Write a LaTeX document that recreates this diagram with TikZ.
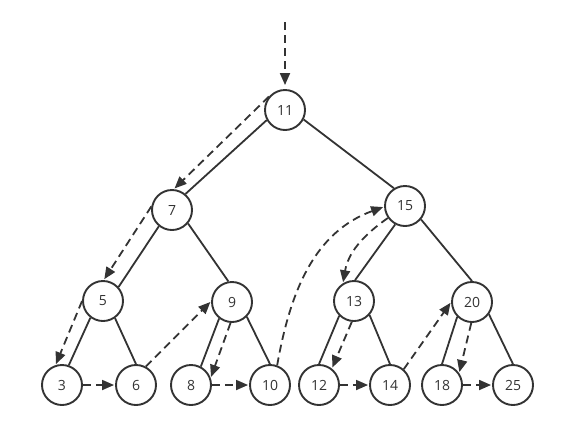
\documentclass[tikz,border=0pt]{standalone}
\usepackage{fontspec}
\setmainfont{Open Sans}
\usepackage{xcolor}
\usepackage{tikz}
\definecolor{treeInk}{HTML}{333333}
\usetikzlibrary{arrows.meta}

\begin{document}
\begin{tikzpicture}[
  x=1pt, y=1pt,
  vertex/.style={draw=treeInk, line width=1.9pt, circle, minimum size=40pt, inner sep=0pt, fill=white, text=treeInk, font=\fontsize{14}{16}\selectfont},
  edge/.style={line width=1.8pt, treeInk},
  walk/.style={line width=1.8pt, treeInk, dash pattern=on 8pt off 5pt, -{Triangle[length=12pt,width=10pt]}, shorten >=1pt}
]

% Frame
\useasboundingbox (0,0) rectangle (577,-429);

% Tree nodes
\node[vertex] (n11) at (285,-110) {11};
\node[vertex] (n7) at (172,-210) {7};
\node[vertex] (n15) at (405,-206) {15};
\node[vertex] (n5) at (103,-301) {5};
\node[vertex] (n9) at (232,-302) {9};
\node[vertex] (n13) at (354,-301) {13};
\node[vertex] (n20) at (472,-302) {20};
\node[vertex] (n3) at (62,-385) {3};
\node[vertex] (n6) at (136,-385) {6};
\node[vertex] (n8) at (191,-385) {8};
\node[vertex] (n10) at (270,-385) {10};
\node[vertex] (n12) at (319,-385) {12};
\node[vertex] (n14) at (390,-385) {14};
\node[vertex] (n18) at (442,-385) {18};
\node[vertex] (n25) at (513,-385) {25};

% Tree edges
\draw[edge] (n11.209) -- (n7.50);
\draw[edge] (n11.-27) -- (n15.122);
\draw[edge] (n7.231) -- (n5.42);
\draw[edge] (n7.-40) -- (n9.100);
\draw[edge] (n15.242) -- (n13.87);
\draw[edge] (n15.-40) -- (n20.90);
\draw[edge] (n5.233) -- (n3.71);
\draw[edge] (n5.-55) -- (n6.90);
\draw[edge] (n9.232) -- (n8.62);
\draw[edge] (n9.-45) -- (n10.90);
\draw[edge] (n13.225) -- (n12.90);
\draw[edge] (n13.-42) -- (n14.90);
\draw[edge] (n20.225) -- (n18.90);
\draw[edge] (n20.-36) -- (n25.90);

% Traversal path (dashed)
\coordinate (entry) at (285,-22);
\draw[walk, shorten >=4pt] (entry) -- (n11.north);
\draw[walk] (n11.140) -- (n7.85);
\draw[walk] (n7.170) -- (n5.88);
\draw[walk] (n5.180) -- (n3.108);
\draw[walk] (n3.east) -- (n6.west);
\draw[walk] (n6.62) -- (n9.178);
\draw[walk] (n9.266) -- (n8.20);
\draw[walk] (n8.east) -- (n10.west);
\draw[walk] (n10.70) to[out=80, in=200] (n15.182);
\draw[walk] (n15.215) to[out=215, in=80] (n13.122);
\draw[walk] (n13.264) -- (n12.52);
\draw[walk] (n12.east) -- (n14.west);
\draw[walk] (n14.49) -- (n20.180);
\draw[walk] (n20.268) -- (n18.35);
\draw[walk] (n18.east) -- (n25.west);

\end{tikzpicture}
\end{document}
